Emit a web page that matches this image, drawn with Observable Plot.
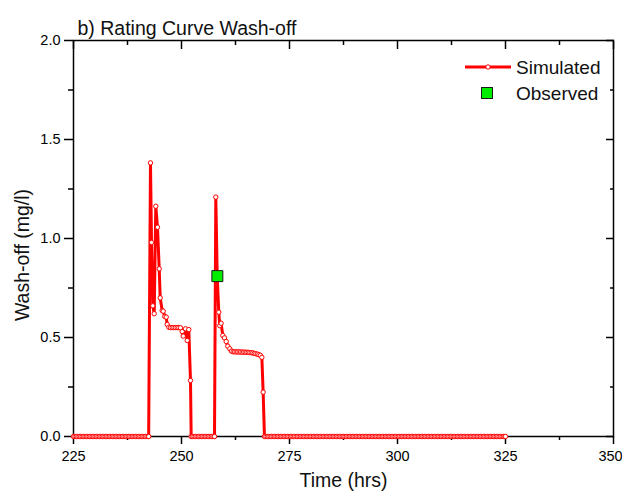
<!DOCTYPE html>
<html>
<head>
<meta charset="utf-8">
<script src="https://cdn.jsdelivr.net/npm/d3@7"></script>
<script src="https://cdn.jsdelivr.net/npm/@observablehq/plot@0.6"></script>
<style>
  html, body { margin: 0; padding: 0; background: #fff; }
  #chart { font-family: "Liberation Sans", Arial, sans-serif; }
</style>
</head>
<body>
<div id="chart"></div>
<script>
// ---------- data ----------
const chartTitle = "b) Rating Curve Wash-off";
const xLabel = "Time (hrs)";
const yLabel = "Wash-off (mg/l)";
const seriesNames = ["Simulated", "Observed"];

const xMajorTicks = [225, 250, 275, 300, 325, 350];
const xMinorTicks = [237.5, 262.5, 287.5, 312.5, 337.5];
const yMajorTicks = [0, 0.5, 1.0, 1.5, 2.0];
const yMinorTicks = [0.25, 0.75, 1.25, 1.75];

// simulated series: stretches where wash-off reads zero (sampled every 20 min)
const sampleStep = 1 / 3;
const zeroRuns = [[225, 242.4], [252.24, 257.64], [269.2, 325]];

// first wash-off event
const event1Time = [242.82, 243.06, 243.36, 243.68, 244.05, 244.44, 244.84, 245.07, 245.53, 245.76,
  246.13, 246.46, 246.69, 247.06, 247.45, 247.85, 248.22, 248.61, 249.0, 249.38,
  249.77, 250.16, 250.39, 250.93, 251.32, 251.69, 252.08];
const event1Value = [1.382, 0.98, 0.66, 0.62, 1.163, 1.057, 0.847, 0.70, 0.636, 0.633,
  0.606, 0.603, 0.566, 0.552, 0.55, 0.55, 0.55, 0.55, 0.55, 0.55,
  0.549, 0.53, 0.507, 0.544, 0.485, 0.54, 0.283];

// second wash-off event
const event2Time = [257.94, 258.27, 258.63, 258.86, 259.17, 259.56, 259.95, 260.35, 260.72, 261.18,
  261.57, 261.95, 262.3, 262.65, 263.0, 263.35, 263.7, 264.05, 264.4, 264.75,
  265.1, 265.45, 265.8, 266.15, 266.5, 266.85, 267.2, 267.55, 267.9, 268.25,
  268.6, 268.9];
const event2Value = [1.209, 0.81, 0.628, 0.56, 0.572, 0.51, 0.498, 0.48, 0.456, 0.443,
  0.431, 0.428, 0.428, 0.427, 0.427, 0.427, 0.427, 0.426, 0.426, 0.426,
  0.425, 0.425, 0.424, 0.423, 0.422, 0.42, 0.418, 0.416, 0.413, 0.41,
  0.40, 0.224];

const observedTime = [258.3];
const observedValue = [0.81];

// ---------- build table ----------
function zeroRun([a, b]) {
  const t = d3.range(a, b, sampleStep);
  if (b - t[t.length - 1] > 1e-6) t.push(b);
  return t.map(x => ({t: x, v: 0}));
}
const simulated = [
  ...zeroRun(zeroRuns[0]),
  ...event1Time.map((t, i) => ({t, v: event1Value[i]})),
  ...zeroRun(zeroRuns[1]),
  ...event2Time.map((t, i) => ({t, v: event2Value[i]})),
  ...zeroRun(zeroRuns[2])
];
const observed = observedTime.map((t, i) => ({t, v: observedValue[i]}));

// ---------- plot ----------
const W = 622, H = 498;
const mL = 73, mR = 9, mT = 40, mB = 62;
const tickFont = 14.5;
const labelFont = 19.5;
const noText = () => "";

const plot = Plot.plot({
  width: W,
  height: H,
  marginLeft: mL,
  marginRight: mR,
  marginTop: mT,
  marginBottom: mB,
  style: {background: "#fff", color: "#000", fontFamily: "'Liberation Sans', Arial, sans-serif", fontSize: "15px", overflow: "visible"},
  x: {domain: [225, 350]},
  y: {domain: [0, 2]},
  marks: [
    Plot.axisX({anchor: "bottom", ticks: xMajorTicks.slice(0, -1), tickSize: 8, tickPadding: 6, fontSize: tickFont, strokeWidth: 1.5, label: null}),
    Plot.axisX({anchor: "bottom", ticks: xMajorTicks.slice(-1), tickSize: 8, tickFormat: noText, strokeWidth: 1.5, label: null}),
    Plot.axisX({anchor: "bottom", ticks: xMajorTicks.slice(-1), tickSize: 0, tickPadding: 14, dx: -3, fontSize: tickFont, strokeWidth: 0, label: null}),
    Plot.axisX({anchor: "bottom", ticks: xMinorTicks, tickSize: 4, tickFormat: noText, strokeWidth: 1.5, label: null}),
    Plot.axisX({anchor: "top", ticks: xMajorTicks, tickSize: 8, dy: 8, tickFormat: noText, strokeWidth: 1.5, label: null}),
    Plot.axisX({anchor: "top", ticks: xMinorTicks, tickSize: 4, dy: 4, tickFormat: noText, strokeWidth: 1.5, label: null}),
    Plot.axisY({anchor: "left", ticks: yMajorTicks, tickSize: 9, tickPadding: 4, fontSize: tickFont, tickFormat: d3.format(".1f"), strokeWidth: 1.5, label: null}),
    Plot.axisY({anchor: "left", ticks: yMinorTicks, tickSize: 5, tickFormat: noText, strokeWidth: 1.5, label: null}),
    Plot.axisY({anchor: "right", ticks: yMajorTicks, tickSize: 8, dx: -8, tickFormat: noText, strokeWidth: 1.5, label: null}),
    Plot.axisY({anchor: "right", ticks: yMinorTicks, tickSize: 4, dx: -4, tickFormat: noText, strokeWidth: 1.5, label: null}),
    Plot.frame({stroke: "#000", strokeWidth: 1.5}),
    Plot.line(simulated, {x: "t", y: "v", stroke: "#ff0000", strokeWidth: 3, curve: "linear"}),
    Plot.dot(simulated, {x: "t", y: "v", r: 2.2, fill: "#fff", stroke: "#ff0000", strokeWidth: 1}),
    Plot.dot(observed, {x: "t", y: "v", symbol: "square", r: 6.2, fill: "#00ee00", stroke: "#1a1a1a", strokeWidth: 1}),
    Plot.text([chartTitle], {frameAnchor: "top-left", dx: 4, dy: -19, textAnchor: "start", fontSize: labelFont, fill: "#111"}),
    Plot.text([xLabel], {frameAnchor: "bottom", dy: 50, fontSize: labelFont, fill: "#111"})
  ]
});

// ---------- y-axis title and legend ----------
const svgSel = d3.select(plot);
const frameRight = W - mR, frameTop = mT;
const frameMidY = (mT + (H - mB)) / 2;

svgSel.append("text")
  .attr("transform", `translate(${mL - 51},${frameMidY + 17}) rotate(-90)`)
  .attr("text-anchor", "middle").attr("dy", "0.35em")
  .attr("font-family", "'Liberation Sans', Arial, sans-serif")
  .attr("font-size", labelFont).attr("fill", "#111")
  .text(yLabel);

const lg = svgSel.append("g")
  .attr("font-family", "'Liberation Sans', Arial, sans-serif")
  .attr("font-size", 19).attr("text-anchor", "start");
lg.append("line").attr("x1", frameRight - 148).attr("x2", frameRight - 102)
  .attr("y1", frameTop + 27).attr("y2", frameTop + 27)
  .attr("stroke", "#ff0000").attr("stroke-width", 3);
lg.append("circle").attr("cx", frameRight - 125).attr("cy", frameTop + 27).attr("r", 2.2)
  .attr("fill", "#fff").attr("stroke", "#ff0000").attr("stroke-width", 1);
lg.append("text").attr("x", frameRight - 97).attr("y", frameTop + 27).attr("dy", "0.35em")
  .attr("fill", "#111").text(seriesNames[0]);
lg.append("rect").attr("x", frameRight - 131.5).attr("y", frameTop + 47.5).attr("width", 11).attr("height", 11)
  .attr("fill", "#00ee00").attr("stroke", "#1a1a1a").attr("stroke-width", 1);
lg.append("text").attr("x", frameRight - 97).attr("y", frameTop + 53).attr("dy", "0.35em")
  .attr("fill", "#111").text(seriesNames[1]);

document.getElementById("chart").appendChild(plot);
</script>
</body>
</html>
